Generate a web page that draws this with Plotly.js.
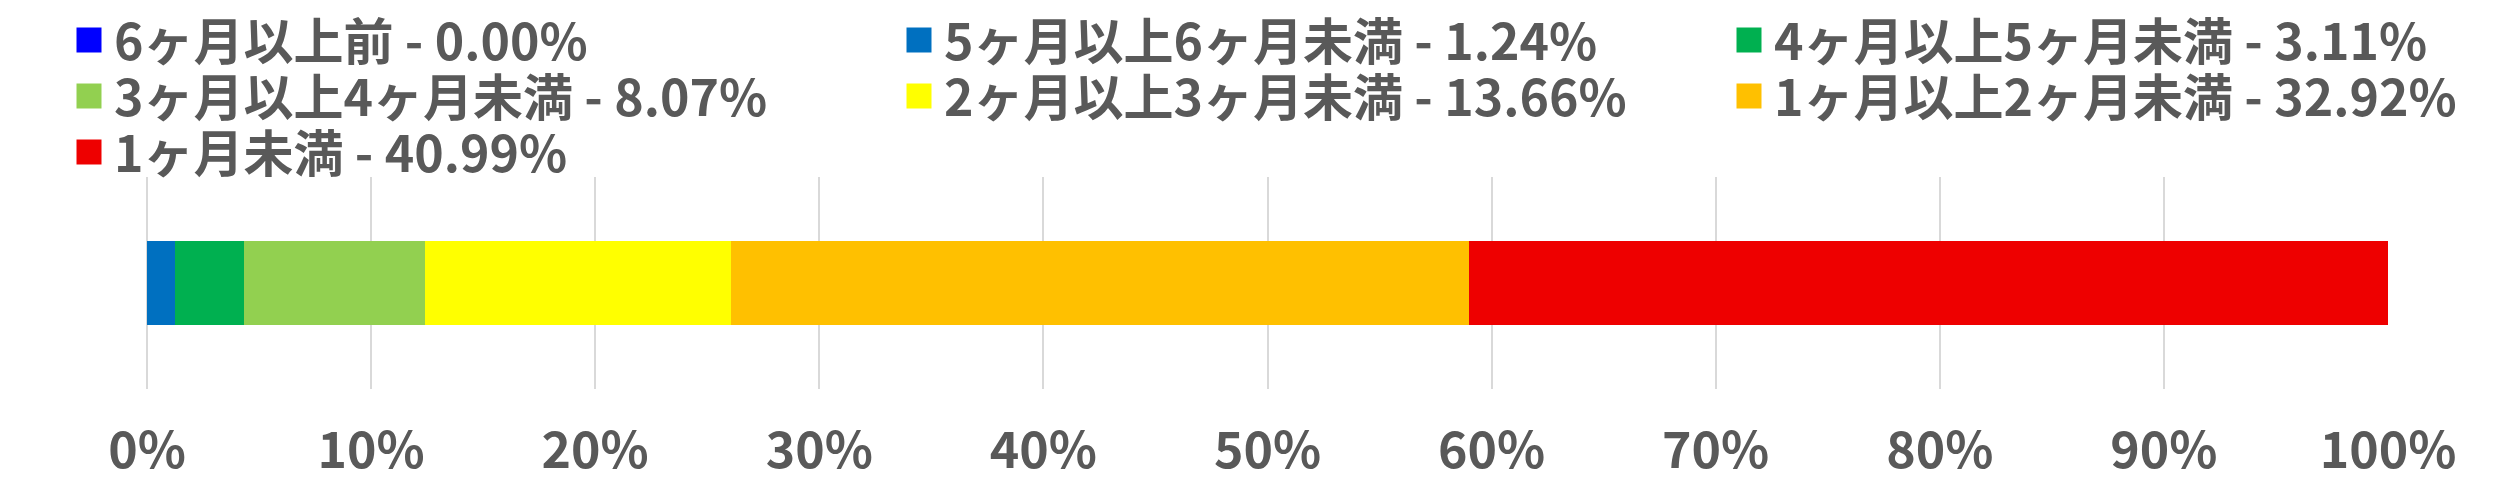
<!DOCTYPE html>
<html>
<head>
<meta charset="utf-8">
<script src="https://cdn.plot.ly/plotly-3.0.1.min.js"></script>
<style>html,body{margin:0;padding:0;background:#ffffff;}</style>
</head>
<body>
<div id="chart" style="width:2518px;height:494px;"></div>
<script>
// ---- data ----
const categories = ['回答'];
const seriesNames = ['6ヶ月以上前', '5ヶ月以上6ヶ月未満', '4ヶ月以上5ヶ月未満', '3ヶ月以上4ヶ月未満', '2ヶ月以上3ヶ月未満', '1ヶ月以上2ヶ月未満', '1ヶ月未満'];
const seriesValues = [0.00, 1.24, 3.11, 8.07, 13.66, 32.92, 40.99];
const seriesColors = ['#0000FF', '#0070C0', '#00B050', '#92D050', '#FFFF00', '#FFC000', '#EE0000'];
const tickValues = [0, 10, 20, 30, 40, 50, 60, 70, 80, 90, 100];
const tickLabels = ['0%', '10%', '20%', '30%', '40%', '50%', '60%', '70%', '80%', '90%', '100%'];

const FONT = '"Noto Sans CJK JP", "Noto Sans", sans-serif';
const TEXT = '#595959';
const W = 2518, H = 494;

// legend grid: 3 columns, rows of 3
const legendNames = seriesNames.map((_, i) => (i === 0 ? 'legend' : 'legend' + (i + 1)));

const traces = seriesNames.map((name, i) => ({
  type: 'bar',
  orientation: 'h',
  y: categories,
  x: [seriesValues[i]],
  width: 0.4,
  name: name + ' - ' + seriesValues[i].toFixed(2) + '%',
  marker: { color: seriesColors[i], line: { width: 0 } },
  legend: legendNames[i],
  hoverinfo: 'name'
}));

function legendCfg(i) {
  const col = i % 3, row = Math.floor(i / 3);
  const xPx = 64 + 830 * col;
  const yPx = 40 + 56 * row;
  return {
    orientation: 'h',
    xref: 'container', yref: 'container',
    x: xPx / W, xanchor: 'left',
    y: 1 - yPx / H, yanchor: 'middle',
    itemwidth: 40,
    bgcolor: 'rgba(0,0,0,0)', borderwidth: 0,
    font: { family: FONT, size: 50, color: TEXT, weight: 700 }
  };
}

const layout = {
  width: W, height: H,
  margin: { l: 147, r: 130, t: 177, b: 105, pad: 0, autoexpand: false },
  paper_bgcolor: '#ffffff', plot_bgcolor: '#ffffff',
  barmode: 'stack',
  showlegend: true,
  font: { family: FONT, color: TEXT },
  xaxis: {
    range: [0, 100],
    tickmode: 'array', tickvals: tickValues, ticktext: tickLabels,
    showgrid: true, gridcolor: '#D9D9D9', gridwidth: 2,
    zeroline: true, zerolinecolor: '#D9D9D9', zerolinewidth: 2,
    showline: false, ticks: '',
    ticklabelstandoff: 28,
    tickfont: { family: FONT, size: 50, color: TEXT, weight: 700 },
    fixedrange: true
  },
  yaxis: {
    range: [-0.5, 0.5],
    showticklabels: false, showgrid: false, zeroline: false, showline: false, ticks: '',
    fixedrange: true
  }
};
legendNames.forEach((ln, i) => { layout[ln] = legendCfg(i); });

function bigSymbols() {
  document.querySelectorAll('#chart g.legendpoints path').forEach(p => {
    p.setAttribute('d', 'M12.5,12.5H-12.5V-12.5H12.5Z');
  });
}

const gd = document.getElementById('chart');
Plotly.newPlot(gd, traces, layout, { staticPlot: true, displayModeBar: false }).then(() => {
  bigSymbols();
  gd.on('plotly_afterplot', bigSymbols);
});
</script>
</body>
</html>
